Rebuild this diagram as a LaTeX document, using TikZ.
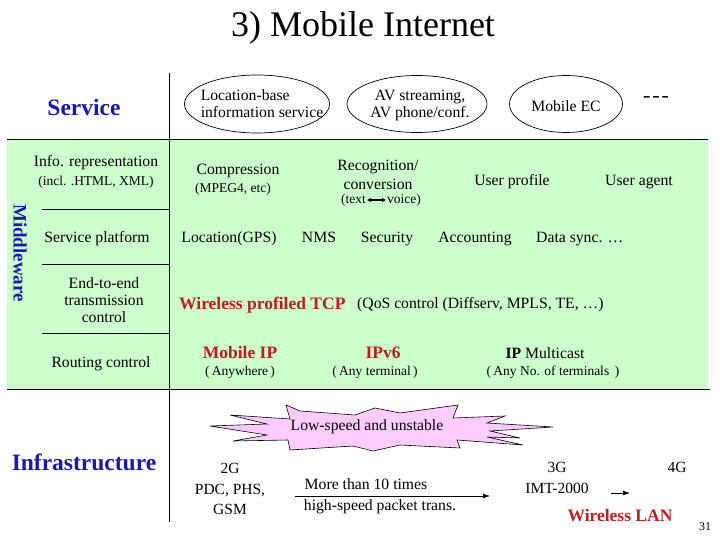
\documentclass[tikz,border=0pt]{standalone}
\usepackage{fontspec}
\setmainfont{Liberation Serif}
\usetikzlibrary{shapes.geometric,arrows.meta}
\definecolor{gfill}{RGB}{204,255,204}
\definecolor{pfill}{RGB}{255,204,255}
\definecolor{hblue}{RGB}{26,26,170}
\definecolor{hred}{RGB}{196,28,28}
\tikzset{
  txt/.style={font=\fontsize{15.7}{17}\selectfont, inner sep=0pt, align=center},
  rowtxt/.style={txt, anchor=base},
  smalltxt/.style={font=\fontsize{13.5}{15}\selectfont, inner sep=0pt, align=center},
  hdr/.style={font=\fontsize{23.5}{26}\selectfont\bfseries, text=hblue, inner sep=0pt},
  redtxt/.style={font=\fontsize{17.5}{20}\selectfont\bfseries, text=hred, inner sep=0pt},
  ellbox/.style={draw, ellipse, line width=0.7pt, inner sep=0pt},
  rule/.style={line width=0.9pt},
  arr/.style={line width=0.8pt, -{Latex[length=7pt,width=5pt]}},
}
\begin{document}
\begin{tikzpicture}[x=1pt,y=-1pt]
\useasboundingbox (0,0) rectangle (720,540);
\fill[white] (0,0) rectangle (720,540);
% green middleware band
\fill[gfill] (7,139) rectangle (708,389);
\draw[rule] (7,139) -- (708,139);
\draw[rule] (7,389) -- (710,389);
\draw[rule] (169,73) -- (169,522);
\draw[rule] (42,209) -- (169,209);
\draw[rule] (42,264) -- (169,264);
\draw[rule] (42,333) -- (169,333);

% title and headers
\node[font=\fontsize{36}{40}\selectfont, inner sep=0pt] (title) at (363,28) {3) Mobile Internet};
\node[hdr] (service) at (84,107) {Service};
\node[hdr] (infra) at (84,462) {Infrastructure};
\node[hdr, font=\fontsize{19}{21}\selectfont\bfseries, rotate=-90] (mw) at (20,253) {Middleware};

% service ellipses
\node[ellbox, minimum width=145pt, minimum height=58pt] (e1) at (257,104) {};
\node[txt, align=left] (e1t) at (262,104) {Location-base\\information service};
\node[ellbox, minimum width=140pt, minimum height=57pt] (e2) at (417,104) {};
\node[txt] (e2t) at (420,105) {AV streaming,\\AV phone/conf.};
\node[ellbox, minimum width=113pt, minimum height=57pt] (e3) at (566,104) {};
\node[txt] (e3t) at (566,106) {Mobile EC};
\node[font=\fontsize{22}{24}\selectfont, inner sep=0pt] (etc) at (656,99) {-\hspace{2pt}-\hspace{2pt}-};

% row 1
\node[txt] (info1) at (96,163) {Info. representation};
\node[smalltxt] (info2) at (96,182) {(incl. .HTML, XML)};
\node[txt] (comp1) at (238,171) {Compression};
\node[smalltxt] (comp2) at (233,189) {(MPEG4, etc)};
\node[txt] (rec1) at (378,167) {Recognition/};
\node[txt] (rec2) at (378,184) {conversion};
\node[smalltxt, anchor=east] (rec3a) at (366,200) {(text};
\node[smalltxt, anchor=west] (rec3b) at (387,200) {voice)};
\draw[line width=1.6pt, {Latex[length=4pt,width=5pt]}-{Latex[length=4pt,width=5pt]}] (rec3a.east) ++(1,0) -- ([xshift=-1pt]rec3b.west);
\node[rowtxt] (up) at (512,186) {User profile};
\node[rowtxt] (ua) at (639,186) {User agent};

% row 2
\node[rowtxt] (sp) at (97,242) {Service platform};
\node[rowtxt] (gps) at (229,242) {Location(GPS)};
\node[rowtxt] (nms) at (319,242) {NMS};
\node[rowtxt] (sec) at (387,242) {Security};
\node[rowtxt] (acc) at (475,242) {Accounting};
\node[txt, anchor=base west] (ds) at (536,242) {Data sync. …};

% row 3
\node[txt] (e2e) at (104,300) {End-to-end\\transmission\\control};
\node[redtxt, anchor=west] (tcp) at (179,305) {Wireless profiled TCP};
\node[txt, anchor=west] (qos) at (357,305) {(QoS control (Diffserv, MPLS, TE, …)};

% row 4
\node[txt] (rc) at (101,364) {Routing control};
\node[redtxt] (mip) at (240,353) {Mobile IP};
\node[smalltxt] (mip2) at (240,372) {(\,Anywhere\,)};
\node[redtxt] (v6) at (383,353) {IPv6};
\node[smalltxt] (v62) at (375,372) {(\,Any terminal\,)};
\node[txt] (ipm) at (545,353) {\textbf{IP} Multicast};
\node[smalltxt] (ipm2) at (553,372) {(\,Any No. of terminals\, )};

% infrastructure
\draw[fill=pfill, line width=0.6pt]
  (286,405) -- (300,411) -- (355,415) -- (375,408) -- (400,413) -- (458,405)
  -- (453,418) -- (505,416) -- (487,423) -- (553,427) -- (490,431) -- (520,438)
  -- (487,437) -- (523,445) -- (457,440) -- (460,448) -- (400,445) -- (373,451)
  -- (353,446) -- (290,450) -- (288,440) -- (233,441) -- (267,435) -- (210,426)
  -- (267,424) -- (230,415) -- (290,419) -- cycle;
\node[txt] (low) at (367,427) {Low-speed and unstable};

\node[txt, font=\fontsize{15.5}{20.5}\selectfont] (g2) at (230,489) {2G\\PDC, PHS,\\GSM};
\node[txt] (more) at (366,484) {More than 10 times};
\node[txt] (high) at (380,507) {high-speed packet trans.};
\coordinate (a1) at (295,496);
\coordinate (a2) at (490,496);
\draw[arr] (a1) -- (a2);
\node[txt, font=\fontsize{15.5}{17}\selectfont] (g3) at (557,467) {3G};
\node[txt, font=\fontsize{15.5}{17}\selectfont] (imt) at (557,488) {IMT-2000};
\coordinate (b1) at (611,493);
\coordinate (b2) at (630,493);
\draw[arr] (b1) -- (b2);
\node[txt, font=\fontsize{15.5}{17}\selectfont] (g4) at (677,467) {4G};
\node[redtxt] (wlan) at (620,516) {Wireless LAN};
\node[font=\fontsize{12}{14}\selectfont, inner sep=0pt] (pg) at (705,527) {31};
\end{tikzpicture}
\end{document}
